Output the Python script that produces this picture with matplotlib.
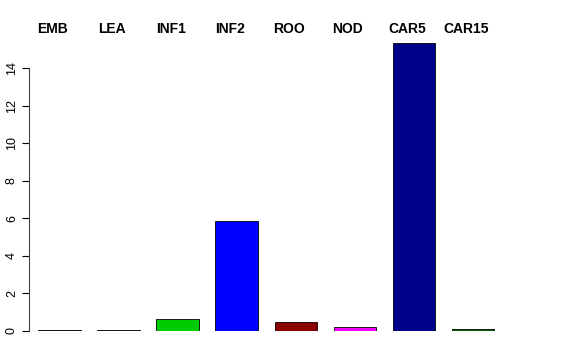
import numpy as np
import matplotlib.pyplot as plt
import matplotlib.transforms as mtrans

tissues = ['EMB', 'LEA', 'INF1', 'INF2', 'ROO', 'NOD', 'CAR5', 'CAR15']
expr = [0.05, 0.05, 0.65, 5.85, 0.48, 0.2, 15.35, 0.1]
colors = ['black', '#1a0000', '#00CD00', '#0000FF', '#8B0000', '#FF00FF', '#00008B', '#006400']

W, H = 576, 360
fig = plt.figure(figsize=(W / 100, H / 100), dpi=100)
plt.rcParams['font.family'] = ['Liberation Sans', 'DejaVu Sans']

# pixel layout
step = 59.07
first = 59.5
left_px = 29
y0_px = 331
ppu = 18.79  # pixels per data unit
ytop = 15.6
xlo, xhi = -(first - left_px) / step, 7.6
right_px = first + step * xhi

ax = fig.add_axes([left_px / W, 1 - y0_px / H,
                   (right_px - left_px) / W, ytop * ppu / H])
x = np.arange(len(tissues))
ax.bar(x, expr, width=0.72, color=colors, edgecolor='black', linewidth=0.6)
ax.set_xlim(xlo, xhi)
ax.set_ylim(0, ytop)

for s in ['top', 'right', 'bottom']:
    ax.spines[s].set_visible(False)
ax.spines['left'].set_bounds(0, 14)
ax.spines['left'].set_linewidth(0.8)
ax.spines['left'].set_color('#444444')
ax.set_xticks([])
ax.set_yticks(np.arange(0, 15, 2))
ax.tick_params(axis='y', length=5, width=0.8, labelsize=9, pad=3)
for lab in ax.get_yticklabels():
    lab.set_rotation(90)
    lab.set_va('center')

# labels sit a little left of the bar centres
tr = mtrans.blended_transform_factory(ax.transData, fig.transFigure)
off = 7 / step
for i, t in enumerate(tissues):
    ax.text(i - off, 1 - 29 / H, t, transform=tr, ha='center', va='center',
            fontsize=10, fontweight='bold')

fig.savefig('out.png', dpi=100)
